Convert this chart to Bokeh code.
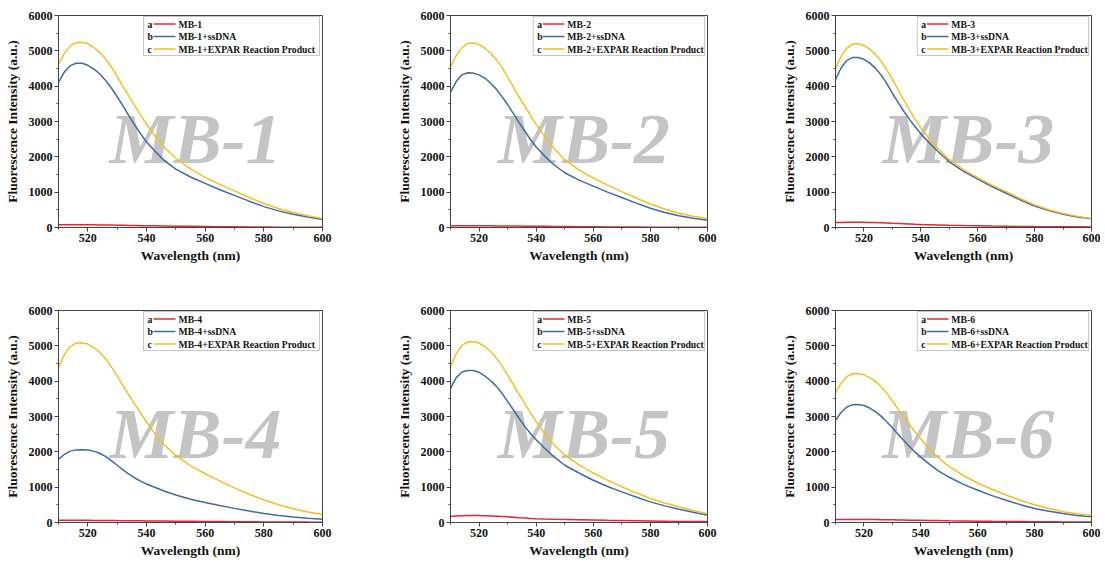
from bokeh.plotting import figure
from bokeh.models import Range1d, SingleIntervalTicker, Label, BoxAnnotation, ColumnDataSource
from bokeh.layouts import column, row
from bokeh.embed import file_html
from bokeh.resources import INLINE
from bokeh.core.properties import value

# ---------------- data ----------------
wavelength = [510, 512, 514, 516, 518, 520, 522, 524, 526, 528, 530, 532, 534, 536, 538,
              540, 543, 546, 550, 555, 560, 565, 570, 575, 580, 585, 590, 595, 600]

probe_names = ["MB-1", "MB-2", "MB-3", "MB-4", "MB-5", "MB-6"]
series_letters = ["a", "b", "c"]
series_suffix = ["", "+ssDNA", "+EXPAR Reaction Product"]

mb1_probe = [78, 80, 81, 81, 80, 78, 76, 74, 72, 69, 66, 63, 60, 57, 53, 50, 46, 43, 38, 32,
             27, 22, 18, 15, 12, 10, 8, 7, 6]
mb1_ssdna = [4110, 4400, 4580, 4650, 4650, 4590, 4490, 4350, 4170, 3950, 3700, 3440, 3160, 2900,
             2650, 2420, 2150, 1900, 1650, 1430, 1250, 1070, 910, 745, 590, 470, 375, 295, 226]
mb1_expar = [4630, 4920, 5140, 5235, 5245, 5200, 5100, 4960, 4780, 4550, 4280, 3990, 3720, 3450,
             3180, 2930, 2580, 2270, 1960, 1660, 1420, 1220, 1035, 850, 680, 540, 425, 330, 255]

mb2_probe = [50, 50, 50, 50, 49, 48, 47, 46, 45, 43, 42, 40, 39, 37, 35, 34, 32, 29, 26, 22,
             19, 16, 13, 11, 9, 7, 6, 5, 4]
mb2_ssdna = [3830, 4130, 4320, 4380, 4370, 4320, 4230, 4090, 3920, 3710, 3480, 3230, 2970, 2730,
             2490, 2280, 2020, 1790, 1550, 1340, 1170, 1000, 850, 690, 545, 425, 330, 262, 207]
mb2_expar = [4540, 4860, 5090, 5210, 5225, 5180, 5080, 4940, 4760, 4530, 4260, 3980, 3700, 3440,
             3170, 2920, 2570, 2260, 1920, 1630, 1400, 1200, 1015, 835, 665, 525, 405, 320, 255]

mb3_probe = [140, 145, 148, 150, 150, 148, 145, 141, 136, 130, 122, 115, 108, 101, 94, 88, 81,
             74, 64, 55, 47, 40, 34, 29, 25, 22, 20, 18, 16]
mb3_ssdna = [4190, 4520, 4730, 4810, 4810, 4760, 4660, 4510, 4320, 4080, 3800, 3540, 3290, 3060,
             2850, 2650, 2390, 2150, 1860, 1590, 1370, 1160, 970, 780, 610, 480, 377, 300, 245]
mb3_expar = [4490, 4850, 5080, 5190, 5200, 5150, 5050, 4900, 4710, 4470, 4200, 3900, 3610, 3330,
             3060, 2820, 2510, 2230, 1920, 1640, 1410, 1200, 1015, 820, 640, 500, 395, 315, 255]

mb4_probe = [62, 63, 63, 63, 62, 61, 60, 59, 58, 56, 54, 53, 51, 49, 47, 45, 43, 41, 37, 33,
             29, 26, 23, 20, 17, 15, 13, 11, 10]
mb4_ssdna = [1790, 1930, 2020, 2055, 2060, 2050, 2020, 1960, 1870, 1750, 1620, 1490, 1370, 1260,
             1170, 1090, 990, 890, 780, 660, 565, 480, 400, 325, 255, 200, 155, 120, 95]
mb4_expar = [4400, 4750, 4980, 5080, 5090, 5050, 4950, 4820, 4640, 4410, 4150, 3870, 3610, 3350,
             3090, 2850, 2500, 2200, 1900, 1610, 1380, 1170, 980, 800, 640, 500, 390, 300, 226]

mb5_probe = [170, 182, 190, 195, 197, 196, 192, 187, 180, 170, 160, 148, 136, 125, 114, 105, 97,
             90, 84, 77, 70, 62, 55, 48, 42, 36, 31, 28, 25]
mb5_ssdna = [3785, 4100, 4260, 4300, 4300, 4250, 4150, 4020, 3860, 3660, 3430, 3190, 2950, 2720,
             2520, 2340, 2100, 1880, 1620, 1400, 1196, 1020, 866, 720, 584, 470, 377, 290, 207]
mb5_expar = [4425, 4780, 5010, 5110, 5120, 5080, 4980, 4840, 4660, 4440, 4180, 3900, 3630, 3370,
             3100, 2860, 2520, 2220, 1910, 1630, 1400, 1200, 1010, 840, 678, 550, 443, 340, 245]

mb6_probe = [85, 87, 88, 88, 87, 86, 84, 82, 80, 78, 75, 72, 70, 67, 64, 62, 58, 54, 49, 43,
             38, 33, 29, 25, 21, 18, 15, 13, 11]
mb6_ssdna = [2890, 3120, 3270, 3335, 3340, 3310, 3240, 3140, 3010, 2850, 2680, 2500, 2320, 2150,
             1990, 1850, 1650, 1470, 1280, 1080, 913, 760, 630, 505, 395, 320, 254, 200, 160]
mb6_expar = [3670, 3950, 4130, 4210, 4210, 4180, 4100, 4000, 3850, 3660, 3440, 3210, 2990, 2770,
             2560, 2360, 2090, 1840, 1580, 1330, 1110, 940, 780, 630, 500, 395, 305, 245, 200]

panel_series = [
    (mb1_probe, mb1_ssdna, mb1_expar),
    (mb2_probe, mb2_ssdna, mb2_expar),
    (mb3_probe, mb3_ssdna, mb3_expar),
    (mb4_probe, mb4_ssdna, mb4_expar),
    (mb5_probe, mb5_ssdna, mb5_expar),
    (mb6_probe, mb6_ssdna, mb6_expar),
]

x_tick_interval = 20
y_tick_interval = 1000
x_limits = (510, 600)
y_limits = (0, 6000)

# ---------------- style ----------------
COLORS = ["#E8262B", "#3E6BA6", "#F6BE22"]
FRAME = "#444444"
SERIF = "Liberation Serif"
AXIS_FONT = "'Liberation Serif', 'Times New Roman', serif"
WATERMARK = "#C4C4C4"

FRAME_H = 212


def make_panel(idx, width, height, frame_w, b_left, b_right, b_top, b_bottom):
    name = probe_names[idx]
    x0, x1 = x_limits
    y0, y1 = y_limits
    p = figure(width=width, height=height, output_backend="svg", toolbar_location=None,
               x_range=Range1d(x0, x1), y_range=Range1d(y0, y1),
               min_border_left=b_left, min_border_right=b_right,
               min_border_top=b_top, min_border_bottom=b_bottom,
               background_fill_color="white", border_fill_color="white")
    p.grid.visible = False
    p.outline_line_color = FRAME
    p.outline_line_width = 1
    p.outline_line_alpha = 1

    p.xaxis.ticker = SingleIntervalTicker(interval=x_tick_interval, num_minor_ticks=2)
    p.yaxis.ticker = SingleIntervalTicker(interval=y_tick_interval, num_minor_ticks=2)
    for ax in (p.xaxis[0], p.yaxis[0]):
        ax.axis_line_color = FRAME
        ax.major_tick_line_color = FRAME
        ax.minor_tick_line_color = FRAME
        ax.major_tick_in = 0
        ax.major_tick_out = 4
        ax.minor_tick_in = 0
        ax.minor_tick_out = 2
        ax.major_label_text_font = AXIS_FONT
        ax.major_label_text_font_style = "bold"
        ax.major_label_text_font_size = "12px"
        ax.major_label_text_color = "#111111"
        ax.major_label_standoff = 2
        ax.axis_label_text_font = AXIS_FONT
        ax.axis_label_text_font_style = "bold"
        ax.axis_label_text_font_size = "13.5px"
        ax.axis_label_text_color = "#111111"
    p.xaxis[0].axis_label_standoff = 3
    p.yaxis[0].axis_label_standoff = 6
    p.xaxis.axis_label = "Wavelength (nm)"
    p.yaxis.axis_label = "Fluorescence Intensity (a.u.)"

    # helpers: pixel offsets inside the frame -> data coordinates
    def fx(px):
        return x0 + px * (x1 - x0) / frame_w

    def fy(py):
        return y1 - py * (y1 - y0) / FRAME_H

    # watermark (drawn first so curves are on top)
    wm = ColumnDataSource(dict(x=[fx(0.519 * frame_w)], y=[fy(123)], t=[name]))
    p.text(x="x", y="y", text="t", source=wm, text_font=value(SERIF),
           text_font_style="bold italic", text_font_size="72px", text_color=WATERMARK,
           text_align="center", text_baseline="alphabetic")

    # curves
    for k, ys in enumerate(panel_series[idx]):
        src = ColumnDataSource(dict(x=wavelength, y=ys))
        p.line("x", "y", source=src, line_color=COLORS[k], line_width=1.5)

    # legend (manual, to get the "a / b / c" prefix)
    box_r = frame_w - 3
    box_l = box_r - 176
    box_t, box_b = 1, 40
    p.add_layout(BoxAnnotation(left=fx(box_l), right=fx(box_r), top=fy(box_t), bottom=fy(box_b),
                               fill_color="white", fill_alpha=1, line_color=FRAME, line_width=1))
    rows_y = [8.5, 21, 33.5]
    for k in range(3):
        yc = rows_y[k]
        p.add_layout(Label(x=fx(box_l + 4), y=fy(yc), text=series_letters[k], text_font=SERIF,
                           text_font_style="bold", text_font_size="9.7px", text_color="#111111",
                           text_baseline="middle", text_align="left"))
        p.add_layout(BoxAnnotation(left=fx(box_l + 10), right=fx(box_l + 32),
                                   top=fy(yc - 0.8), bottom=fy(yc + 0.8),
                                   fill_color=COLORS[k], fill_alpha=1, line_alpha=0))
        p.add_layout(Label(x=fx(box_l + 35), y=fy(yc), text=name + series_suffix[k], text_font=SERIF,
                           text_font_style="bold", text_font_size="9.7px", text_color="#111111",
                           text_baseline="middle", text_align="left"))
    return p


FW, FW3 = 264, 263
TOP1, TOP2 = 15, 7
BOT1, BOT2 = 76, 38
H1 = TOP1 + FRAME_H + BOT1
H2 = TOP2 + FRAME_H + BOT2

p1 = make_panel(0, 58 + FW + 71, H1, FW, 58, 71, TOP1, BOT1)
p2 = make_panel(1, 50 + FW + 71, H1, FW, 50, 71, TOP1, BOT1)
p3 = make_panel(2, 50 + FW3 + 9, H1, FW3, 50, 9, TOP1, BOT1)
p4 = make_panel(3, 58 + FW + 71, H2, FW, 58, 71, TOP2, BOT2)
p5 = make_panel(4, 50 + FW + 71, H2, FW, 50, 71, TOP2, BOT2)
p6 = make_panel(5, 50 + FW3 + 9, H2, FW3, 50, 9, TOP2, BOT2)

layout = column(row(p1, p2, p3), row(p4, p5, p6))
open("out.html", "w").write(file_html(layout, INLINE))
